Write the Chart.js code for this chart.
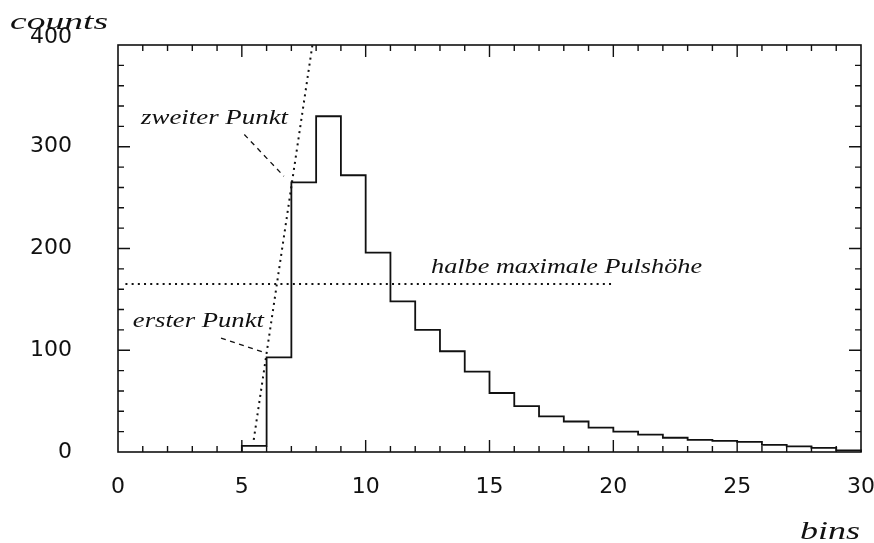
<!DOCTYPE html>
<html>
<head>
<meta charset="utf-8">
<title>Pulshöhe</title>
<script src="https://cdn.jsdelivr.net/npm/chart.js@4.4.1/dist/chart.umd.min.js"></script>
<style>
  html, body { margin: 0; padding: 0; background: #fff; }
  #wrap { width: 874px; height: 543px; }
</style>
</head>
<body>
<div id="wrap"><canvas id="histo" width="874" height="543"></canvas></div>
<script>
// ---- data ----
const binLow = [5, 6, 7, 8, 9, 10, 11, 12, 13, 14, 15, 16, 17, 18, 19, 20, 21, 22, 23, 24, 25, 26, 27, 28, 29];
const counts = [6, 93, 265, 330, 272, 196, 148, 120, 99, 79, 58, 45, 35, 30, 24, 20, 17, 14, 12, 11, 10, 7, 5.5, 4, 1.5];
const xTicks = [0, 5, 10, 15, 20, 25, 30];
const yTicks = [0, 100, 200, 300, 400];

// dotted helper lines
const halfMaxLine = [{ x: 0.3, y: 165 }, { x: 20, y: 165 }];
const riseLine = [{ x: 5.48, y: 12 }, { x: 7.85, y: 400 }];
// dashed pointers from the labels
const pointerSecond = [{ x: 5.10, y: 312 }, { x: 6.70, y: 271 }];
const pointerFirst = [{ x: 4.16, y: 112 }, { x: 6.0, y: 97 }];

// histogram outline: left edge then right edge of each bin
const histPoints = [{ x: binLow[0], y: 0 }];
binLow.forEach((b, i) => histPoints.push({ x: b + 1, y: counts[i] }));
histPoints.push({ x: binLow[binLow.length - 1] + 1, y: 0 });

const ink = '#111';
const tickFont = { family: 'DejaVu Sans', size: 22 };

// text is stretched to the width of the old plotter lettering
function wideText(ctx, str, x, y, width, font) {
    ctx.save();
    ctx.font = font;
    ctx.fillStyle = ink;
    ctx.textBaseline = 'alphabetic';
    const w = ctx.measureText(str).width;
    ctx.translate(x, y);
    ctx.scale(width / w, 1);
    ctx.fillText(str, 0, 0);
    ctx.restore();
}

const framePlugin = {
    id: 'frame',
    afterDraw(chart) {
        const { ctx, chartArea: a, scales: { x, y } } = chart;
        ctx.save();
        ctx.strokeStyle = ink;
        ctx.lineWidth = 1.6;
        ctx.strokeRect(a.left, a.top, a.right - a.left, a.bottom - a.top);

        // inward ticks on all four sides
        ctx.lineWidth = 1.4;
        ctx.beginPath();
        for (let v = 1; v < 30; v++) {
            const px = x.getPixelForValue(v);
            const len = v % 5 === 0 ? 12 : 6;
            ctx.moveTo(px, a.bottom); ctx.lineTo(px, a.bottom - len);
            ctx.moveTo(px, a.top); ctx.lineTo(px, a.top + len);
        }
        for (let v = 20; v < 400; v += 20) {
            const py = y.getPixelForValue(v);
            const len = v % 100 === 0 ? 12 : 6;
            ctx.moveTo(a.left, py); ctx.lineTo(a.left + len, py);
            ctx.moveTo(a.right, py); ctx.lineTo(a.right - len, py);
        }
        ctx.stroke();

        // top label of the y axis sits above the frame
        ctx.font = tickFont.size + 'px "' + tickFont.family + '"';
        ctx.fillStyle = ink;
        ctx.textAlign = 'right';
        ctx.textBaseline = 'middle';
        ctx.fillText('400', 72, 37);
        ctx.restore();

        // axis titles
        wideText(ctx, 'counts', 10, 29, 98, 'italic 24px "Liberation Serif"');
        wideText(ctx, 'bins', 800, 539, 60, 'italic 25px "Liberation Serif"');

        // annotations placed in data coordinates
        const f = 'italic 20px "Liberation Serif"';
        wideText(ctx, 'zweiter Punkt', x.getPixelForValue(0.93), y.getPixelForValue(322), 147, f);
        wideText(ctx, 'erster Punkt', x.getPixelForValue(0.6), y.getPixelForValue(123), 131, f);
        wideText(ctx, 'halbe maximale Pulshöhe', x.getPixelForValue(12.64), y.getPixelForValue(176), 271, f);
    }
};

new Chart(document.getElementById('histo'), {
    type: 'line',
    data: {
        datasets: [
            { data: histPoints, stepped: 'after', borderColor: ink, borderWidth: 1.8, clip: false },
            { data: halfMaxLine, borderColor: ink, borderWidth: 2, borderDash: [2, 4.2] },
            { data: riseLine, borderColor: ink, borderWidth: 2, borderDash: [2, 4.2], clip: false },
            { data: pointerSecond, borderColor: ink, borderWidth: 1.3, borderDash: [5, 4.5] },
            { data: pointerFirst, borderColor: ink, borderWidth: 1.3, borderDash: [5, 4.5] }
        ]
    },
    options: {
        responsive: false,
        animation: false,
        layout: { padding: { top: 45, right: 13, left: 0, bottom: 0 } },
        elements: { point: { radius: 0 }, line: { tension: 0, fill: false } },
        plugins: { legend: { display: false }, tooltip: { enabled: false } },
        scales: {
            x: {
                type: 'linear', min: 0, max: 30,
                afterBuildTicks: s => { s.ticks = xTicks.map(v => ({ value: v })); },
                afterFit: s => { s.height = 91; s.paddingLeft = 0; s.paddingRight = 0; },
                grid: { display: false, drawTicks: false },
                border: { display: false },
                ticks: { font: tickFont, color: ink, padding: 22, maxRotation: 0 }
            },
            y: {
                type: 'linear', min: 0, max: 400,
                afterBuildTicks: s => { s.ticks = yTicks.map(v => ({ value: v })); },
                afterFit: s => { s.width = 118; s.paddingTop = 0; s.paddingBottom = 0; },
                grid: { display: false, drawTicks: false },
                border: { display: false },
                ticks: { font: tickFont, color: ink, padding: 46, callback: v => (v === 400 ? '' : v) }
            }
        }
    },
    plugins: [framePlugin]
});
</script>
</body>
</html>
